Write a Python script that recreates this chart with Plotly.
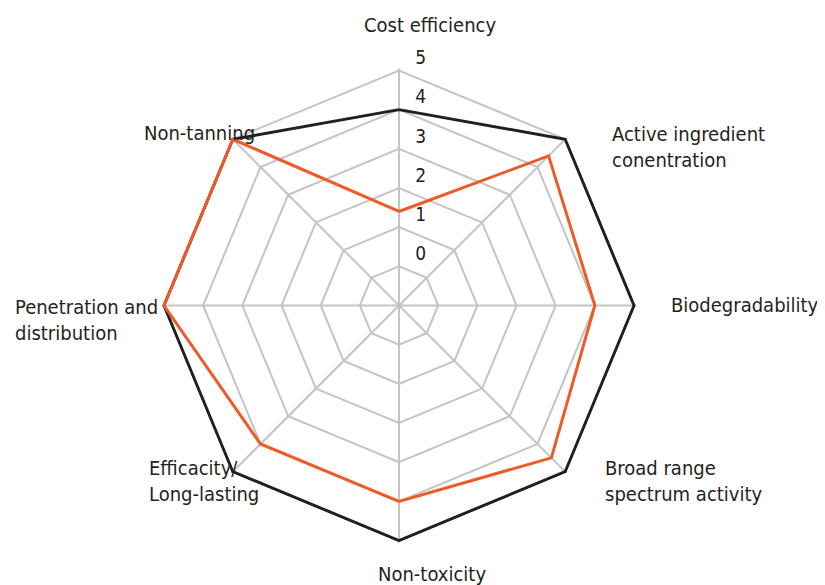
import plotly.graph_objects as go

categories = ["Cost efficiency", "Active ingredient conentration", "Biodegradability",
              "Broad range spectrum activity", "Non-toxicity", "Efficacity/ Long-lasting",
              "Penetration and distribution", "Non-tanning"]
label_text = ["Cost efficiency", "Active ingredient<br>conentration", "Biodegradability",
              "Broad range<br>spectrum activity", "Non-toxicity", "Efficacity/<br>Long-lasting",
              "Penetration and<br>distribution", "Non-tanning"]
series_black = [4, 5, 5, 5, 5, 5, 5, 5]
series_orange = [1.4, 4.4, 4, 4.5, 4, 4, 5, 5]
radial_ticks = [0, 1, 2, 3, 4, 5]

FONT = "Liberation Sans Narrow, DejaVu Sans Condensed, Roboto Condensed, Roboto, sans-serif"
GRID = "#c4c4c4"
R_MIN, R_MAX = -1, 5.05

fig = go.Figure()
fig.add_trace(go.Scatterpolar(r=series_black + series_black[:1], theta=categories + categories[:1],
                              mode="lines", line=dict(color="#231f20", width=3), cliponaxis=False,
                              showlegend=False, hoverinfo="skip"))
fig.add_trace(go.Scatterpolar(r=series_orange + series_orange[:1], theta=categories + categories[:1],
                              mode="lines", line=dict(color="#f05a28", width=3), cliponaxis=False,
                              showlegend=False, hoverinfo="skip"))

# page offset from default body margin
OFF = 8
CX, CY, UNIT = 399, 305.5, 39.25          # centre and pixels per unit in page pixels
RAD = UNIT * (R_MAX - R_MIN)
L, T, W = CX - RAD, CY - RAD, 2 * RAD     # plot area in page pixels
label_pos = [
    (430, 25, "center"), (610, 147, "left"), (822, 305, "right"), (603, 481, "left"),
    (432, 574, "center"), (147, 481, "left"), (12, 320, "left"), (257, 133, "right"),
]
annotations = []
for txt, (px, py, anc) in zip(label_text, label_pos):
    annotations.append(dict(text=txt, x=(px - L) / W, y=(T + W - py) / W, xref="paper", yref="paper",
                            xanchor=anc, yanchor="middle", align=anc,
                            showarrow=False, font=dict(size=20, color="#231f20", family=FONT)))

fig.update_layout(
    width=825 - OFF, height=585 - OFF,
    margin=dict(l=L - OFF, r=825 - L - W, t=T - OFF, b=585 - T - W),
    paper_bgcolor="white", plot_bgcolor="white",
    font=dict(family=FONT, color="#231f20"),
    annotations=annotations,
    polar=dict(
        bgcolor="white",
        gridshape="linear",
        domain=dict(x=[0, 1], y=[0, 1]),
        radialaxis=dict(range=[R_MIN, R_MAX], tickvals=radial_ticks,
                        ticktext=[f"{v}<br> " for v in radial_ticks],
                        angle=90, tickangle=90, side="clockwise",
                        showline=False, gridcolor=GRID, gridwidth=1.5,
                        ticks="outside", ticklen=12, tickcolor="rgba(0,0,0,0)",
                        layer="below traces",
                        tickfont=dict(size=19, color="#231f20", family=FONT)),
        angularaxis=dict(direction="clockwise", rotation=90, showticklabels=False,
                         ticks="", gridcolor=GRID, gridwidth=1.5,
                         showline=False, layer="below traces"),
    ),
)
fig.write_html("out.html")
